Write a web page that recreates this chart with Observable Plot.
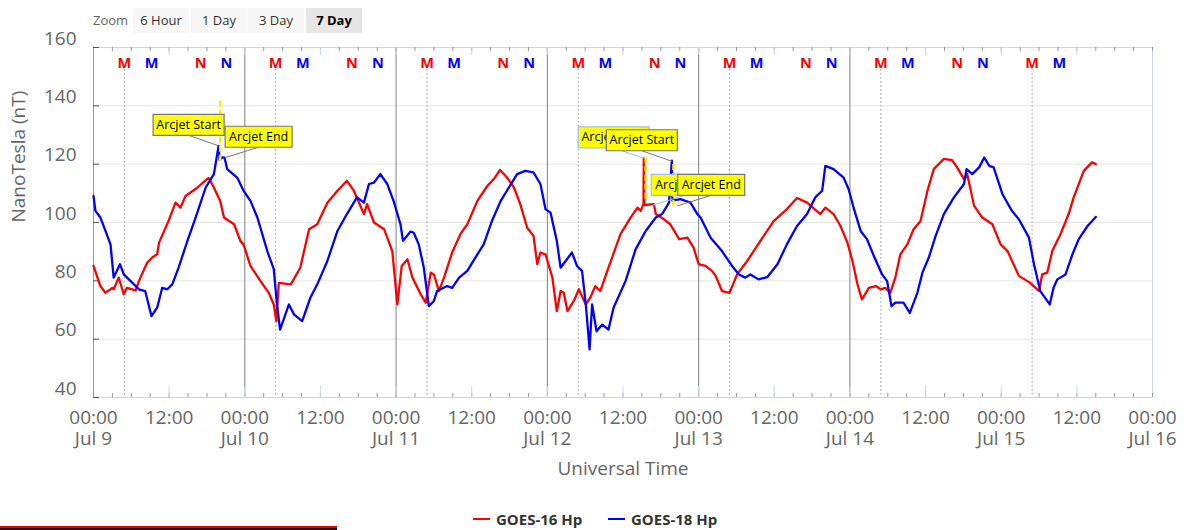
<!DOCTYPE html>
<html><head><meta charset="utf-8">
<script src="https://cdn.jsdelivr.net/npm/d3@7"></script>
<script src="https://cdn.jsdelivr.net/npm/@observablehq/plot@0.6"></script>
<style>
body{margin:0;background:#fff;font-family:"Open Sans",sans-serif;}
#wrap{position:relative;width:1189px;height:530px;overflow:hidden;background:#fff;}
#chart{position:absolute;left:0;top:0;}
.zl{position:absolute;left:93px;top:8px;height:25px;line-height:25px;font-size:13px;color:#666;}
.btn{position:absolute;top:8px;height:25px;line-height:25px;text-align:center;font-size:13px;color:#333;background:#f7f7f7;}
.btn.sel{background:#e6e6e6;font-weight:bold;color:#000;}
.lg{position:absolute;top:509px;height:20px;line-height:20px;font-size:15px;font-weight:bold;color:#333;}
.sw{position:absolute;top:518px;width:17px;height:2px;}
#bar{position:absolute;left:0;top:526px;width:337px;height:2px;background:#e00;border-bottom:2px solid #111;}
</style></head>
<body><div id="wrap"><div id="chart"></div></div>
<script>
// ---- data (hours since 2023-07-09 00:00 UTC) ----
const startDate = "2023-07-09T00:00:00Z";
const g16Hours = [0.0,1.1,1.9,3.0,3.2,4.0,4.8,5.3,6.7,7.2,8.5,9.3,10.1,10.4,11.9,13.0,13.8,14.6,16.5,18.0,18.3,19.1,20.1,20.7,22.3,23.3,23.8,24.9,26.5,27.8,28.6,29.0,29.4,31.3,32.8,34.2,35.5,37.1,38.7,40.2,41.3,42.9,43.4,44.5,46.1,47.4,48.2,48.9,49.8,50.6,51.9,52.7,53.5,54.0,54.8,55.6,56.9,58.2,59.3,60.9,62.5,63.5,64.5,65.6,66.7,67.7,68.8,69.8,70.4,70.9,71.7,72.8,73.5,74.1,74.6,75.2,76.2,77.0,78.1,78.8,79.6,80.4,81.7,83.6,85.2,86.3,86.8,87.25,87.3,87.4,88.9,89.2,90.5,91.5,92.9,94.2,95.2,96.0,97.1,98.1,98.7,99.7,100.9,102.1,103.7,105.8,107.9,110.0,111.6,113.2,115.3,116.1,117.4,118.5,119.6,120.4,121.2,121.9,123.0,124.1,124.9,125.6,126.4,127.2,128.0,129.1,130.1,131.2,132.3,133.3,134.9,136.2,137.0,138.1,138.6,139.7,141.0,142.6,143.9,145.0,146.8,148.6,150.0,150.5,151.3,152.1,153.4,154.7,155.5,157.1,158.4,159.0];
const g16Values = [85.1,78.2,75.9,77.6,77.1,81.1,75.4,77.6,76.7,79.9,86.2,88.0,89.1,93.1,100.5,106.8,105.1,109.1,112.0,114.9,115.2,112.0,107.4,101.7,99.4,93.7,92.5,85.1,79.9,75.9,71.9,66.2,79.3,78.8,84.5,97.7,99.4,106.8,110.9,114.3,110.9,102.9,106.3,100.0,97.7,90.2,71.9,85.1,87.4,81.1,75.4,72.5,82.8,82.2,76.5,81.1,89.7,96.0,99.4,107.4,112.6,114.9,118.0,115.4,112.0,106.3,98.2,95.4,85.7,89.7,89.1,81.1,69.6,76.5,75.9,69.6,73.1,77.1,71.9,74.2,78.2,76.5,84.5,96.0,101.7,105.1,104.0,106.3,122.0,106.0,106.3,102.9,101.1,99.4,94.3,94.8,91.4,85.7,85.1,83.4,81.7,76.5,75.9,82.2,86.8,93.7,100.5,104.6,108.4,106.8,102.9,105.1,102.9,98.8,93.1,86.8,78.8,73.6,77.6,78.2,77.1,77.6,75.9,81.1,89.1,92.5,97.7,100.5,110.9,118.3,121.8,121.4,118.9,114.9,116.6,105.7,101.7,99.4,92.5,90.2,81.7,79.3,76.5,82.2,82.8,90.2,96.0,102.9,108.6,117.7,120.6,120.0];
const g18Hours = [0.0,0.3,1.1,1.9,2.7,3.2,4.2,4.8,5.9,7.2,8.2,9.2,10.1,10.9,11.7,12.5,13.5,14.9,16.2,17.8,19.1,19.85,20.0,20.4,20.8,21.2,22.8,23.8,24.9,26.0,27.6,28.6,29.1,29.6,31.0,31.8,33.1,34.4,35.5,37.1,38.7,40.2,41.8,42.9,43.7,44.5,45.5,46.6,47.6,48.7,49.1,50.3,50.8,51.6,52.4,53.2,54.0,54.5,56.1,56.9,58.0,59.3,60.9,61.9,63.2,64.6,65.9,67.2,68.5,69.8,70.9,71.7,72.5,73.5,74.1,74.9,75.9,76.7,77.5,78.1,78.7,79.1,79.8,80.7,81.7,82.5,84.4,86.0,87.6,89.2,90.2,91.3,91.75,91.85,93.1,93.9,94.7,95.8,96.3,97.9,99.7,101.3,102.4,103.4,104.2,105.5,106.9,108.5,110.0,111.6,113.2,114.5,115.6,116.1,117.4,119.0,119.8,120.6,121.7,122.7,123.8,125.1,125.9,126.6,127.2,128.5,129.5,130.7,131.5,132.5,133.6,134.9,136.5,138.1,138.5,139.4,140.5,141.3,142.1,142.8,144.2,145.7,146.8,148.4,149.2,150.2,151.7,152.3,152.9,154.2,155.3,156.3,157.7,159.0];
const g18Values = [109.1,104.0,101.7,97.1,92.5,81.1,85.7,82.2,79.9,77.1,76.5,67.9,70.8,77.6,77.1,78.8,84.5,93.7,101.7,112.0,116.6,126.3,121.5,122.3,122.2,118.3,115.4,110.9,107.4,101.7,90.0,84.0,72.0,63.3,71.9,68.5,66.2,74.2,78.8,86.8,97.1,102.9,108.6,106.8,113.2,113.7,116.6,113.2,107.4,99.4,93.7,96.9,96.5,92.5,84.5,71.3,73.1,76.5,78.2,77.6,81.1,83.4,89.1,92.5,100.5,107.4,112.0,116.6,117.7,117.2,113.2,104.6,103.4,93.7,84.5,86.8,89.7,85.1,83.4,71.9,56.5,71.9,62.7,65.0,63.3,70.8,79.9,90.8,97.1,101.7,102.9,106.8,121.2,107.5,108.0,107.4,106.8,102.9,101.7,94.8,90.2,85.1,82.2,81.1,82.2,80.5,81.3,85.7,92.5,98.8,102.9,108.6,110.9,119.4,118.3,115.4,111.4,104.9,97.1,94.3,88.5,82.2,79.9,71.3,72.5,72.5,69.0,75.9,82.8,87.9,95.4,102.9,108.6,113.2,118.3,116.6,118.9,122.3,119.4,118.9,109.7,104.0,101.1,94.8,85.7,76.5,71.9,77.6,80.5,82.2,89.1,94.3,98.8,101.9];

// arcjet annotations
const annSeries = ["GOES-18","GOES-18","GOES-16","GOES-16","GOES-18","GOES-18"];
const annLabels = ["Arcjet Start","Arcjet End","Arcjet Start","Arcjet End","Arcjet Start","Arcjet End"];
const annHours  = [19.85,20.8,87.3,88.4,91.75,92.6];
const annValues = [126.3,122.2,122.0,105.7,121.0,105.7];
const arcRuleHours = [20.1,87.6,92.0];
const arcRuleLow   = [121.0,108.0,105.5];
const arcRuleHigh  = [141.8,122.0,120.0];

// local midnight (M) / noon (N) markers
const mnHours  = [4.9,9.2,17.0,21.1, 28.9,33.2,41.0,45.1, 52.9,57.2,65.0,69.1, 76.9,81.2,89.0,93.1, 100.9,105.2,113.0,117.1, 124.9,129.2,137.0,141.1, 148.9,153.2];
const mnText   = ["M","M","N","N","M","M","N","N","M","M","N","N","M","M","N","N","M","M","N","N","M","M","N","N","M","M"];
const mnSeries = ["GOES-16","GOES-18","GOES-16","GOES-18","GOES-16","GOES-18","GOES-16","GOES-18","GOES-16","GOES-18","GOES-16","GOES-18","GOES-16","GOES-18","GOES-16","GOES-18","GOES-16","GOES-18","GOES-16","GOES-18","GOES-16","GOES-18","GOES-16","GOES-18","GOES-16","GOES-18"];
const g16MidnightHours = [4.9,28.9,52.9,76.9,100.9,124.9,148.9];
const dayLineHours = [24,48,72,96,120];

// axes
const xTickHours = [0,12,24,36,48,60,72,84,96,108,120,132,144,156,168];
const xTickLabels = ["00:00\nJul 9","12:00","00:00\nJul 10","12:00","00:00\nJul 11","12:00","00:00\nJul 12","12:00","00:00\nJul 13","12:00","00:00\nJul 14","12:00","00:00\nJul 15","12:00","00:00\nJul 16"];
const minorTickHours = d3.range(0, 169, 3);
const yTicks = [40,60,80,100,120,140,160];
const yGrid = [60,80,100,120,140];

const colors = {"GOES-16":"#ff0000","GOES-18":"#0000ff"};
const boxStroke = {"GOES-16":"#9cc3e6","GOES-18":"#777777"};

const base = Date.parse(startDate);
const T = h => new Date(base + h*3600000);
const g16 = g16Hours.map((h,i)=>({t:T(h), v:g16Values[i]}));
const g18 = g18Hours.map((h,i)=>({t:T(h), v:g18Values[i]}));
const ann = annHours.map((h,i)=>({t:T(h), v:annValues[i], s:annSeries[i], label:annLabels[i], start: annLabels[i]==="Arcjet Start"}));
const arc = arcRuleHours.map((h,i)=>({t:T(h), lo:arcRuleLow[i], hi:arcRuleHigh[i]}));
const mn = mnHours.map((h,i)=>({t:T(h), text:mnText[i], s:mnSeries[i]}));

const W=1189, H=500, mt=47, mb=103, ml=93, mr=37;
const innerH = H-mt-mb, innerW = W-ml-mr;

const rectSym = (w,h) => ({draw(ctx){ ctx.rect(-w/2,-h/2,w,h); }});
const lineSym = (dx,dy) => ({draw(ctx){ ctx.moveTo(0,0); ctx.lineTo(dx,dy); }});

function annMarks(series){
  const marks = [];
  for (const start of [true,false]) {
    const d = ann.filter(a=>a.s===series && a.start===start);
    const dx = start ? -30 : 34, dy = -21, bw = start ? 71 : 67, bh = 21;
    marks.push(Plot.dot(d, {x:"t", y:"v", symbol: lineSym(dx, dy+bh/2), fill:"none", stroke: boxStroke[series], strokeWidth:1}));
    marks.push(Plot.dot(d, {x:"t", y:"v", symbol: rectSym(bw,bh), dx, dy, fill:"#ffff00", stroke: boxStroke[series], strokeWidth:1.2}));
    marks.push(Plot.text(d, {x:"t", y:"v", text:"label", dx, dy, fill:"#000", fontSize:12.5}));
  }
  return marks;
}

const chart = Plot.plot({
  width: W, height: H,
  marginTop: mt, marginBottom: mb, marginLeft: ml, marginRight: mr,
  style: {fontFamily:"Open Sans", background:"white"},
  x: {type:"utc", domain:[T(0), T(168)], axis:null},
  y: {domain:[40,160], axis:null},
  marks: [
    Plot.ruleY(yGrid, {stroke:"#e6e6e6", strokeWidth:1}),
    Plot.ruleX(g16MidnightHours, {x: d=>T(d), insetTop:18, stroke:"#9a9a9a", strokeDasharray:"1.5,2.5"}),
    Plot.ruleX(dayLineHours, {x: d=>T(d), stroke:"#808080"}),
    Plot.ruleY([160], {stroke:"#ccd6eb"}),
    Plot.ruleY([40], {stroke:"#ccd6eb"}),
    Plot.ruleX([T(168)], {stroke:"#ccd6eb"}),
    Plot.ruleX([T(0)], {stroke:"#999999"}),
    Plot.ruleX(minorTickHours, {x: d=>T(d), insetTop: innerH-4, stroke:"#999"}),
    Plot.ruleX(xTickHours.slice(1,-1), {x: d=>T(d), insetTop: innerH-11, stroke:"#ccd6eb"}),
    Plot.ruleX(minorTickHours, {x: d=>T(d), insetBottom: innerH-4, stroke:"#999"}),
    Plot.ruleX(xTickHours.slice(1,-1), {x: d=>T(d), insetBottom: innerH-8, stroke:"#ccd6eb"}),
    Plot.ruleY(yTicks, {insetRight: innerW-6, stroke:"#555"}),
    Plot.line(g16, {x:"t", y:"v", stroke: colors["GOES-16"], strokeWidth:2.3}),
    Plot.line(g18, {x:"t", y:"v", stroke: colors["GOES-18"], strokeWidth:2.3}),
    Plot.ruleX(arc, {x:"t", y1:"lo", y2:"hi", stroke:"#f2f200", strokeWidth:2.5, strokeDasharray:"6,3"}),
    ...annMarks("GOES-16"),
    ...annMarks("GOES-18"),
    Plot.text(mn, {x:"t", text:"text", fill: d=>colors[d.s], frameAnchor:"top", dy:10, fontWeight:"bold", fontSize:14.5}),
    Plot.text(yTicks, {y: d=>d, text: d=>String(d), frameAnchor:"left", dx:-17, dy:-9, textAnchor:"end", fontSize:19, fill:"#666"}),
    Plot.text(xTickHours, {x: d=>T(d), text: (d,i)=>xTickLabels[i], frameAnchor:"bottom", dy:12, lineAnchor:"top", lineHeight:1.1, fontSize:19, fill:"#666"}),
    Plot.text(["Universal Time"], {frameAnchor:"bottom", dy:77, fontSize:19, fill:"#666"}),
    Plot.text(["NanoTesla (nT)"], {frameAnchor:"left", dx:-75, rotate:-90, fontSize:19, fill:"#666"})
  ]
});
document.getElementById("chart").appendChild(chart);

// zoom buttons and legend (HTML, outside the SVG)
const wrap = document.getElementById("wrap");
const zoomButtons = ["6 Hour","1 Day","3 Day","7 Day"];
const zoomLefts = [133,191,248,306];
const z = document.createElement("div"); z.className="zl"; z.textContent="Zoom"; wrap.appendChild(z);
zoomButtons.forEach((b,i)=>{
  const e=document.createElement("div");
  e.className="btn"+(b==="7 Day"?" sel":"");
  e.style.left=zoomLefts[i]+"px"; e.style.width="56px"; e.textContent=b; wrap.appendChild(e);
});
const legendNames = ["GOES-16 Hp","GOES-18 Hp"];
const legendKeys = ["GOES-16","GOES-18"];
const legendLefts = [473,608];
legendNames.forEach((n,i)=>{
  const s=document.createElement("div"); s.className="sw"; s.style.left=legendLefts[i]+"px"; s.style.background=colors[legendKeys[i]]; wrap.appendChild(s);
  const t=document.createElement("div"); t.className="lg"; t.style.left=(legendLefts[i]+23)+"px"; t.textContent=n; wrap.appendChild(t);
});
const bar=document.createElement("div"); bar.id="bar"; wrap.appendChild(bar);
</script>
</body></html>
